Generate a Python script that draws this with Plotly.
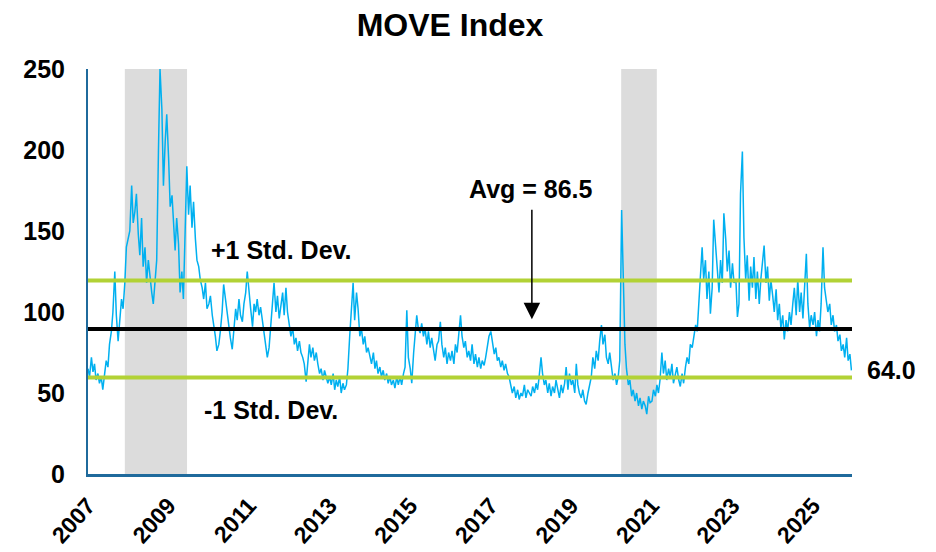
import pandas as pd
import plotly.graph_objects as go

# ---- data (semi-monthly readings of the MOVE index, 1st & 15th of each month) ----
move_2007 = [65, 60, 72, 63, 68, 58, 62, 56, 60, 52, 62, 70, 66, 80, 88, 100, 125, 98, 82, 95, 108, 102, 118, 140]
move_2008 = [145, 150, 178, 155, 162, 173, 148, 135, 158, 128, 140, 118, 132, 122, 112, 105, 122, 132, 200, 250, 225, 178, 205, 222]
move_2009 = [195, 165, 172, 150, 138, 158, 142, 112, 125, 108, 165, 190, 160, 178, 152, 168, 145, 132, 128, 120, 115, 108, 118, 102]
move_2010 = [105, 110, 98, 92, 85, 76, 80, 88, 100, 117, 108, 98, 92, 84, 77, 90, 102, 95, 108, 98, 94, 105, 112, 125]
move_2011 = [110, 102, 91, 105, 100, 108, 98, 103, 95, 88, 80, 72, 78, 90, 105, 118, 100, 110, 96, 105, 112, 98, 115, 100]
move_2012 = [92, 85, 90, 80, 84, 76, 82, 75, 72, 68, 57, 70, 80, 72, 78, 70, 75, 68, 62, 65, 58, 64, 60, 56]
move_2013 = [60, 55, 62, 52, 58, 54, 60, 50, 56, 52, 55, 65, 85, 100, 118, 95, 112, 102, 85, 90, 80, 85, 75, 78]
move_2014 = [72, 68, 75, 65, 70, 62, 66, 60, 64, 58, 62, 56, 60, 55, 58, 53, 60, 55, 60, 55, 62, 66, 101, 72]
move_2015 = [65, 56, 75, 88, 98, 90, 87, 93, 85, 90, 80, 88, 78, 84, 75, 70, 80, 82, 94, 80, 72, 78, 68, 75]
move_2016 = [70, 76, 68, 80, 75, 85, 98, 85, 78, 82, 72, 76, 70, 80, 68, 74, 66, 72, 65, 70, 67, 72, 80, 85]
move_2017 = [88, 80, 74, 78, 70, 72, 66, 70, 64, 68, 62, 60, 55, 50, 54, 47, 52, 46, 50, 48, 55, 47, 52, 50]
move_2018 = [48, 54, 50, 56, 52, 60, 72, 62, 55, 58, 50, 56, 48, 54, 50, 58, 52, 47, 55, 50, 56, 66, 52, 62]
move_2019 = [55, 58, 50, 68, 55, 50, 47, 52, 45, 43, 50, 56, 60, 72, 65, 76, 70, 82, 92, 80, 86, 72, 68, 75]
move_2020 = [65, 58, 62, 55, 60, 70, 163, 120, 80, 65, 55, 58, 48, 52, 45, 50, 42, 47, 40, 45, 42, 37, 48, 44]
move_2021 = [45, 52, 48, 55, 50, 58, 75, 62, 70, 58, 65, 60, 68, 56, 62, 66, 58, 54, 62, 56, 66, 72, 68, 80]
move_2022 = [78, 85, 92, 88, 103, 118, 140, 120, 132, 108, 125, 99, 115, 157, 140, 125, 112, 132, 118, 161, 145, 125, 138, 115]
move_2023 = [130, 118, 120, 97, 105, 173, 199, 146, 120, 135, 107, 128, 115, 134, 108, 125, 105, 120, 130, 141, 118, 128, 107, 120]
move_2024 = [110, 100, 114, 95, 105, 90, 98, 83, 95, 88, 100, 92, 105, 115, 98, 120, 100, 112, 96, 118, 136, 105, 90, 98]
move_2025 = [92, 100, 85, 95, 88, 105, 140, 115, 108, 100, 105, 92, 98, 88, 92, 82, 86, 76, 80, 72, 84, 70, 74, 64]

avg_line = 89.5
std_dev = 30.0
avg_label = "Avg = 86.5"
last_label = "64.0"
recessions = [("2007-12-01", "2009-06-17"), ("2020-03-28", "2021-02-14")]
tick_years = ["2007", "2009", "2011", "2013", "2015", "2017", "2019", "2021", "2023", "2025"]

values = (move_2007 + move_2008 + move_2009 + move_2010 + move_2011 + move_2012 + move_2013
          + move_2014 + move_2015 + move_2016 + move_2017 + move_2018 + move_2019 + move_2020
          + move_2021 + move_2022 + move_2023 + move_2024 + move_2025)
dates = pd.date_range("2007-01-01", "2025-12-15", freq="SMS")

FONT = "Arial, Liberation Sans, sans-serif"
GREEN = "#B2D235"
AXIS_BLUE = "#1F6A9C"

# the page body has an 8px margin, so the figure is 8px smaller than the window
W, H = 928, 544

fig = go.Figure()
fig.add_trace(go.Scatter(x=dates, y=values, mode="lines",
                         line=dict(color="#00B0F0", width=1.5), hoverinfo="x+y", showlegend=False))

shapes = []
for x0, x1 in recessions:
    shapes.append(dict(type="rect", xref="x", yref="y", x0=x0, x1=x1, y0=0, y1=250,
                       fillcolor="#DCDCDC", line=dict(width=0), layer="below"))
for yv, col in [(avg_line + std_dev, GREEN), (avg_line - std_dev, GREEN), (avg_line, "black")]:
    shapes.append(dict(type="line", xref="paper", yref="y", x0=0, x1=1, y0=yv, y1=yv,
                       line=dict(color=col, width=4), layer="above"))

afont = dict(family=FONT, size=25, color="black")
annotations = [
    dict(x="2011-10-23", y=138, xref="x", yref="y", text="<b>+1 Std. Dev.</b>", showarrow=False, font=afont),
    dict(x="2011-07-16", y=39.5, xref="x", yref="y", text="<b>-1 Std. Dev.</b>", showarrow=False, font=afont),
    dict(x="2018-01-01", y=176, xref="x", yref="y", text="<b>%s</b>" % avg_label, showarrow=False, font=afont),
    dict(x="2018-01-08", y=avg_line + 6, ax="2018-01-08", ay=164, xref="x", yref="y",
         axref="x", ayref="y", text="", showarrow=True, arrowhead=2, arrowsize=2.2,
         arrowwidth=1.5, arrowcolor="black"),
    dict(x=1.017, y=64.2, xref="paper", yref="y", text="<b>%s</b>" % last_label, showarrow=False,
         xanchor="left", font=afont),
]

fig.update_layout(
    width=W, height=H,
    margin=dict(l=80, r=84, t=61, b=78),
    paper_bgcolor="white", plot_bgcolor="white",
    title=dict(text="<b>MOVE Index</b>", x=442 / W, xanchor="center", y=1 - 17 / H,
               yanchor="middle", font=dict(family=FONT, size=32, color="black")),
    shapes=shapes, annotations=annotations,
    font=dict(family=FONT, color="black"),
)
fig.update_xaxes(
    type="date", range=["2007-01-01", "2025-12-20"], automargin=False,
    tickvals=[y + "-01-01" for y in tick_years], ticktext=["<b>%s</b>" % y for y in tick_years],
    tickangle=-48, tickfont=dict(family=FONT, size=23, color="black"),
    showgrid=False, zeroline=False, showline=True, linecolor=AXIS_BLUE, linewidth=3,
    ticks="", ticklabelstandoff=6,
)
fig.update_yaxes(
    range=[0, 250], automargin=False, tickvals=[0, 50, 100, 150, 200, 250],
    ticktext=["<b>%d</b>" % v for v in [0, 50, 100, 150, 200, 250]],
    tickfont=dict(family=FONT, size=25, color="black"),
    showgrid=False, zeroline=False, showline=True, linecolor=AXIS_BLUE, linewidth=2,
    ticks="", ticklabelstandoff=16,
)

fig.write_html("out.html")
